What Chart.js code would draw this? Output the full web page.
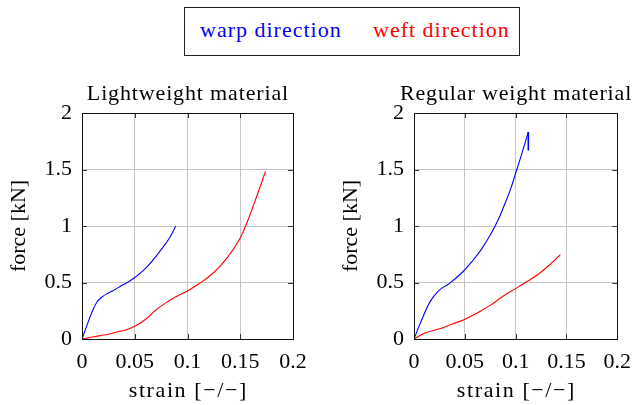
<!DOCTYPE html>
<html>
<head>
<meta charset="utf-8">
<script src="https://cdn.jsdelivr.net/npm/chart.js@4"></script>
<style>
  html, body { margin: 0; padding: 0; background: #fff; }
  #wrap { position: relative; width: 641px; height: 405px; overflow: hidden; }
  #wrap canvas { position: absolute; top: 0; }
  #legend {
    position: absolute; left: 184px; top: 7px; width: 336px; height: 49px;
    box-sizing: border-box; border: 1px solid #222; background: #fff;
    font: 22px/22px 'Liberation Serif', serif; letter-spacing: 1px; z-index: 2;
  }
  #legend span { position: absolute; top: 10.5px; white-space: nowrap; }
</style>
</head>
<body>
<div id="wrap">
  <canvas id="lightChart" width="320" height="405" style="left:0"></canvas>
  <canvas id="regularChart" width="321" height="405" style="left:320px"></canvas>
  <div id="legend">
    <span style="left:15px;color:#0000ff">warp direction</span>
    <span style="left:188px;color:#ff0000">weft direction</span>
  </div>
</div>
<script>
// strain / force curves from tensile tests
const xTicks = [0, 0.05, 0.1, 0.15, 0.2];
const yTicks = [0, 0.5, 1, 1.5, 2];

const lightWarpStrain = [0, 0.0047, 0.0095, 0.0142, 0.019, 0.0235, 0.0284, 0.0379, 0.0474, 0.0614, 0.0758, 0.0835, 0.0888];
const lightWarpForce  = [0, 0.121, 0.239, 0.327, 0.372, 0.40, 0.422, 0.475, 0.526, 0.637, 0.80, 0.903, 0.997];

const lightWeftStrain = [0, 0.0173, 0.025, 0.033, 0.0408, 0.05, 0.0597, 0.0692, 0.0787, 0.0882, 0.0998, 0.1102, 0.1244, 0.137, 0.1496, 0.156, 0.1654, 0.1739];
const lightWeftForce  = [0, 0.03, 0.042, 0.062, 0.077, 0.112, 0.17, 0.25, 0.315, 0.37, 0.425, 0.484, 0.584, 0.711, 0.888, 1.02, 1.257, 1.484];

const regWarpStrain = [0, 0.006, 0.0139, 0.018, 0.0217, 0.0274, 0.0347, 0.0479, 0.0574, 0.0668, 0.0763, 0.0826, 0.0888, 0.0952, 0.0999, 0.1046, 0.1125];
const regWarpForce  = [0, 0.136, 0.298, 0.36, 0.402, 0.45, 0.49, 0.593, 0.69, 0.80, 0.94, 1.05, 1.183, 1.331, 1.464, 1.596, 1.832];
// specimen failure: force drops at the last strain value
const regWarpDropStrain = [0.1125, 0.1125];
const regWarpDropForce  = [1.832, 1.669];

const regWeftStrain = [0, 0.0117, 0.0252, 0.0369, 0.0491, 0.063, 0.0753, 0.0879, 0.1008, 0.1124, 0.1226, 0.1345, 0.144];
const regWeftForce  = [0, 0.055, 0.09, 0.13, 0.17, 0.235, 0.30, 0.38, 0.45, 0.515, 0.575, 0.665, 0.746];

const FONT = "22px 'Liberation Serif', serif";
Chart.defaults.font.family = "'Liberation Serif', serif";
Chart.defaults.font.size = 22;
Chart.defaults.color = '#000';

const fmt = v => String(Number(v.toFixed(2)));
const zip = (xs, ys) => xs.map((x, i) => ({ x, y: ys[i] }));

function spacedText(ctx, text, x, y, spacing) {
  ctx.letterSpacing = spacing + 'px';
  ctx.fillText(text, x + spacing / 2, y);
  ctx.letterSpacing = '0px';
}

// pgfplots-like frame, inner tick marks, plot title and axis labels
const framePlugin = {
  id: 'frame',
  afterDatasetsDraw(chart, args, opts) {
    const { ctx, chartArea: a, scales } = chart;
    ctx.save();
    ctx.strokeStyle = '#333';
    ctx.lineWidth = 1;
    ctx.beginPath();
    xTicks.forEach(v => {
      const px = Math.round(scales.x.getPixelForValue(v)) + 0.5;
      ctx.moveTo(px, a.bottom); ctx.lineTo(px, a.bottom - 5);
      ctx.moveTo(px, a.top); ctx.lineTo(px, a.top + 5);
    });
    yTicks.forEach(v => {
      const py = Math.round(scales.y.getPixelForValue(v)) + 0.5;
      ctx.moveTo(a.left, py); ctx.lineTo(a.left + 5, py);
      ctx.moveTo(a.right, py); ctx.lineTo(a.right - 5, py);
    });
    ctx.stroke();
    ctx.strokeStyle = '#111';
    ctx.strokeRect(Math.round(a.left) + 0.5, Math.round(a.top) + 0.5,
      Math.round(a.right - a.left), Math.round(a.bottom - a.top));

    const cx = (a.left + a.right) / 2;
    const cy = (a.top + a.bottom) / 2;
    ctx.fillStyle = '#000';
    ctx.font = FONT;
    ctx.textAlign = 'center';
    ctx.textBaseline = 'alphabetic';
    spacedText(ctx, opts.text, cx, a.top - 13, 0.85);
    spacedText(ctx, opts.xLabel, cx, a.bottom + 58, 1.6);
    ctx.translate(a.left - 57, cy);
    ctx.rotate(-Math.PI / 2);
    ctx.fillText(opts.yLabel, 0, 0);
    ctx.restore();
  }
};

function makeChart(id, title, padLeft, padRight, datasets) {
  return new Chart(document.getElementById(id), {
    type: 'scatter',
    data: { datasets },
    options: {
      responsive: false,
      animation: false,
      showLine: true,
      elements: {
        point: { radius: 0 },
        line: { borderWidth: 1.1, tension: 0.4, fill: false }
      },
      layout: { padding: { left: padLeft, right: padRight, top: 113, bottom: 0 } },
      plugins: {
        legend: { display: false },
        tooltip: { enabled: false },
        frame: { text: title, xLabel: 'strain [−/−]', yLabel: 'force [kN]' }
      },
      scales: {
        x: {
          type: 'linear', min: 0, max: 0.2,
          afterBuildTicks: s => { s.ticks = xTicks.map(v => ({ value: v })); },
          afterFit: s => { s.height = 66; },
          ticks: { callback: fmt, padding: 10, maxRotation: 0 },
          grid: { color: '#c4c4c4', drawTicks: false },
          border: { display: false }
        },
        y: {
          type: 'linear', min: 0, max: 2,
          afterBuildTicks: s => { s.ticks = yTicks.map(v => ({ value: v })); },
          afterFit: s => { s.width = 82; },
          ticks: { callback: fmt, padding: 10 },
          grid: { color: '#c4c4c4', drawTicks: false },
          border: { display: false }
        }
      }
    },
    plugins: [framePlugin]
  });
}

const BLUE = '#0000ff';
const RED = '#ff0000';

makeChart('lightChart', 'Lightweight material', 0, 27, [
  { label: 'warp direction', data: zip(lightWarpStrain, lightWarpForce), borderColor: BLUE },
  { label: 'weft direction', data: zip(lightWeftStrain, lightWeftForce), borderColor: RED }
]);
makeChart('regularChart', 'Regular weight material', 12, 15, [
  { label: 'warp direction', data: zip(regWarpStrain, regWarpForce), borderColor: BLUE },
  { label: 'warp direction', data: zip(regWarpDropStrain, regWarpDropForce), borderColor: BLUE, borderWidth: 1.6, tension: 0 },
  { label: 'weft direction', data: zip(regWeftStrain, regWeftForce), borderColor: RED }
]);
</script>
</body>
</html>
